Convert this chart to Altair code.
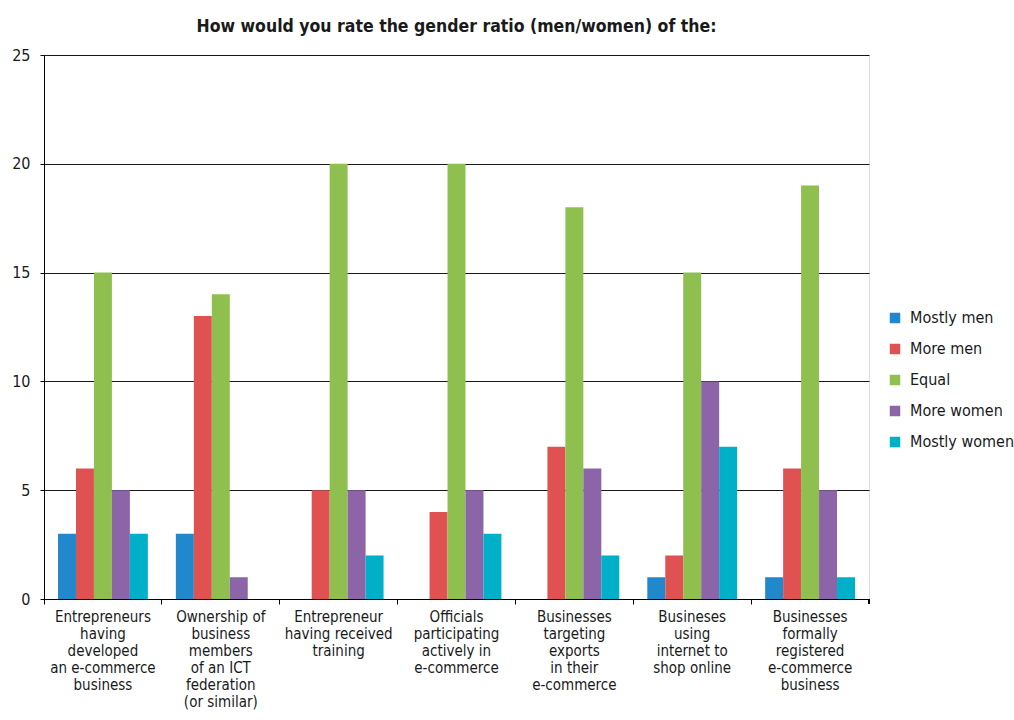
import altair as alt
import pandas as pd

categories = [
    "Entrepreneurs\nhaving\ndeveloped\nan e-commerce\nbusiness",
    "Ownership of\nbusiness\nmembers\nof an ICT\nfederation\n(or similar)",
    "Entrepreneur\nhaving received\ntraining",
    "Officials\nparticipating\nactively in\ne-commerce",
    "Businesses\ntargeting\nexports\nin their\ne-commerce",
    "Busineses\nusing\ninternet to\nshop online",
    "Businesses\nformally\nregistered\ne-commerce\nbusiness",
]
series = ["Mostly men", "More men", "Equal", "More women", "Mostly women"]
colors = ["#2188cc", "#e05252", "#8fbf4f", "#8c64a8", "#00afc8"]

mostly_men = [3, 3, 0, 0, 0, 1, 1]
more_men = [6, 13, 5, 4, 7, 2, 6]
equal = [15, 14, 20, 20, 18, 15, 19]
more_women = [5, 1, 5, 5, 6, 10, 5]
mostly_women = [3, 0, 2, 3, 2, 7, 1]

values = [mostly_men, more_men, equal, more_women, mostly_women]
rows = []
for s, vals in zip(series, values):
    for c, v in zip(categories, vals):
        rows.append({"category": c, "series": s, "value": v})
df = pd.DataFrame(rows)

FONT = "DejaVu Sans Condensed, Roboto, sans-serif"

bars = alt.Chart(df).mark_bar().encode(
    x=alt.X(
        "category:N",
        sort=categories,
        scale=alt.Scale(paddingInner=0, paddingOuter=0),
        axis=alt.Axis(
            title=None,
            labelAngle=0,
            bandPosition=0,
            labelExpr="split(datum.label, '\\n')",
            labelFontSize=15,
            labelLineHeight=17,
            labelColor="#1a1a1a",
            labelFont=FONT,
            labelPadding=5,
            labelBaseline="top",
            tickSize=5,
            tickColor="#000000",
            domainColor="#000000",
            grid=False,
        ),
    ),
    xOffset=alt.XOffset(
        "series:N",
        sort=series,
        scale=alt.Scale(paddingInner=0, paddingOuter=0.78),
    ),
    y=alt.Y(
        "value:Q",
        scale=alt.Scale(domain=[0, 25], nice=False),
        axis=alt.Axis(
            title=None,
            values=[0, 5, 10, 15, 20, 25],
            labelFontSize=16,
            labelFont=FONT,
            labelColor="#1a1a1a",
            labelPadding=10,
            tickSize=4,
            tickColor="#000000",
            domainColor="#000000",
            gridColor="#000000",
            gridWidth=1,
            gridOpacity=0.9,
        ),
    ),
    color=alt.Color(
        "series:N",
        sort=series,
        scale=alt.Scale(domain=series, range=colors),
        legend=alt.Legend(
            title=None,
            orient="none",
            legendX=843,
            legendY=255,
            symbolType="square",
            symbolSize=110,
            symbolStrokeWidth=0,
            labelFontSize=16,
            labelFont=FONT,
            labelColor="#1a1a1a",
            rowPadding=15,
            labelOffset=7,
        ),
    ),
)

end_tick = alt.Chart(df).mark_rule(color="#000000").encode(
    x=alt.value(825), y=alt.value(544), y2=alt.value(549)
)

chart = (
    alt.layer(bars, end_tick)
    .properties(
        width=825,
        height=544,
        title=alt.Title(
            "How would you rate the gender ratio (men/women) of the:",
            fontSize=17.5,
            font=FONT,
            fontWeight="bold",
            color="#1a1a1a",
            anchor="middle",
            offset=12,
        ),
        autosize=alt.AutoSizeParams(type="none"),
        padding={"left": 44, "top": 55, "right": 145, "bottom": 121},
    )
    .configure_view(stroke=None)
    .configure(background="#ffffff")
)

chart.save("out.html", embed_options={"renderer": "svg", "actions": False})
